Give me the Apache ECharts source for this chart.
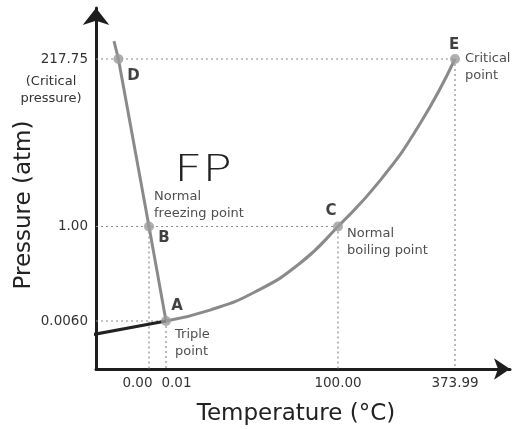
<!DOCTYPE html>
<html>
<head>
<meta charset="utf-8">
<script src="https://cdn.jsdelivr.net/npm/echarts@6/dist/echarts.min.js"></script>
<style>
html,body{margin:0;padding:0;background:#fff;}
#chart{width:514px;height:429px;}
</style>
</head>
<body>
<div id="chart"></div>
<script>
// ---- data ----
const tempTicks = [0.00, 0.01, 100.00, 373.99];
const tempTickLabels = ['0.00', '0.01', '100.00', '373.99'];
const pressTicks = [0.0060, 1.00, 217.75];
const pressTickLabels = ['0.0060', '1.00', '217.75'];

const pointNames = ['A', 'B', 'C', 'D', 'E'];
const pointTemp = [0.01, 0.00, 100.00, -0.018, 373.99];
const pointPress = [0.0060, 1.00, 1.00, 217.75, 217.75];

// solid-liquid (fusion) line
const fusionTemp = [-0.0206, -0.018, 0.00, 0.01];
const fusionPress = [241, 217.75, 1.00, 0.0060];
// liquid-gas (vaporization) curve
const vaporTemp = [0.01, 25.6, 51.7, 77.9, 100.00, 198.4, 292.0, 373.99];
const vaporPress = [0.0060, 0.121, 0.311, 0.613, 1.00, 60.3, 133.9, 217.75];
// solid-gas (sublimation) line
const sublTemp = [-0.033, 0.01];
const sublPress = [0.0043, 0.0060];

const pointText = {
  A: 'Triple\npoint',
  B: 'Normal\nfreezing point',
  C: 'Normal\nboiling point',
  E: 'Critical\npoint'
};

// ---- schematic (non-linear) axis scales ----
const xScaleVals = [0.00, 0.01, 100.00, 373.99];
const xScalePos = [53, 70, 242, 359];
const yScaleVals = [0, 0.0060, 1.00, 217.75];
const yScalePos = [0, 48, 142.5, 310];

function piece(v, vals, pos) {
  let i = 0;
  while (i < vals.length - 2 && v > vals[i + 1]) i++;
  const t = (v - vals[i]) / (vals[i + 1] - vals[i]);
  return pos[i] + t * (pos[i + 1] - pos[i]);
}
const X = t => piece(t, xScaleVals, xScalePos);
const Y = p => piece(p, yScaleVals, yScalePos);
const pairs = (ts, ps) => ts.map((t, i) => [X(t), Y(ps[i])]);

const FONT = '"DejaVu Sans", sans-serif';
const X_MAX = 414, Y_MAX = 361;

function tickIndex(val, ticks, mapFn) {
  for (let i = 0; i < ticks.length; i++) {
    if (Math.abs(mapFn(ticks[i]) - val) < 0.5) return i;
  }
  return -1;
}

const guideStyle = {color: '#8c8c8c', width: 1.2, type: [2, 3]};
const pt = n => pointNames.indexOf(n);
function guide(name, horiz, vert) {
  const i = pt(name);
  const x = X(pointTemp[i]), y = Y(pointPress[i]);
  const out = [];
  if (horiz) out.push([[0, y], [x, y]]);
  if (vert) out.push([[x, y], [x, 0]]);
  return out;
}
const guides = [].concat(
  guide('A', true, true), guide('B', false, true),
  guide('C', true, true), guide('E', true, true)
);

const letterOffsets = {A: [11, -15], B: [15, 12], C: [-7, -15], D: [15, 17], E: [-1, -14]};
const textOffsets = {A: [9, 22], B: [5, -21], C: [9, 16], E: [10, 8]};

const series = [];
guides.forEach(g => series.push({
  type: 'line', data: g, symbol: 'none', silent: true, clip: false,
  lineStyle: guideStyle, z: 1
}));
series.push({
  type: 'line', data: pairs(fusionTemp, fusionPress), symbol: 'none', clip: false,
  lineStyle: {color: '#8a8a8a', width: 3}, z: 3
});
series.push({
  type: 'line', data: pairs(vaporTemp, vaporPress), symbol: 'none', smooth: 0.5, clip: false,
  lineStyle: {color: '#8a8a8a', width: 3}, z: 3
});
series.push({
  type: 'line', data: pairs(sublTemp, sublPress), symbol: 'none', clip: false,
  lineStyle: {color: '#222', width: 3}, z: 3
});
series.push({
  type: 'scatter', symbolSize: 10, z: 5,
  itemStyle: {color: '#9b9b9b'},
  data: pointNames.map((n, i) => ({
    value: [X(pointTemp[i]), Y(pointPress[i])],
    label: {show: true, formatter: n, position: 'inside', offset: letterOffsets[n],
      color: '#111', fontWeight: 'bold', fontSize: 15, fontFamily: FONT}
  }))
});
series.push({
  type: 'scatter', symbolSize: 0, z: 6, silent: true,
  data: pointNames.filter(n => pointText[n]).map(n => {
    const i = pt(n);
    return {
      value: [X(pointTemp[i]), Y(pointPress[i])],
      label: {show: true, formatter: pointText[n], position: 'inside', align: 'left',
        verticalAlign: 'middle', offset: textOffsets[n], color: '#222',
        fontSize: 13, lineHeight: 17, fontFamily: FONT}
    };
  })
});

const chart = echarts.init(document.getElementById('chart'), null, {renderer: 'canvas'});
chart.setOption({
  animation: false,
  backgroundColor: '#fff',
  grid: {left: 96, right: 514 - 96 - X_MAX, top: 369 - Y_MAX, bottom: 60, containLabel: false},
  xAxis: {
    type: 'value', min: 0, max: X_MAX,
    axisLine: {lineStyle: {color: '#1e1e1e', width: 3}, symbol: ['none', 'arrow'], symbolSize: [16, 16]},
    axisTick: {show: false}, splitLine: {show: false},
    axisLabel: {
      customValues: tempTicks.map(X), margin: 7, hideOverlap: false,
      formatter: v => {
        const i = tickIndex(v, tempTicks, X);
        if (i < 0) return '';
        const key = i === 0 ? 'l' : (i === 1 ? 'r' : 'n');
        return '{' + key + '|' + tempTickLabels[i] + '}';
      },
      rich: {
        l: {padding: [0, 23, 0, 0], color: '#333', fontSize: 13.5, fontFamily: FONT},
        r: {padding: [0, 0, 0, 21], color: '#333', fontSize: 13.5, fontFamily: FONT},
        n: {color: '#333', fontSize: 13.5, fontFamily: FONT}
      },
      color: '#333', fontSize: 13.5, fontFamily: FONT
    }
  },
  yAxis: {
    type: 'value', min: 0, max: Y_MAX,
    axisLine: {lineStyle: {color: '#1e1e1e', width: 3}, symbol: ['none', 'arrow'], symbolSize: [20, 17]},
    axisTick: {show: false}, splitLine: {show: false},
    axisLabel: {
      customValues: pressTicks.map(Y), margin: 8, hideOverlap: false,
      formatter: v => { const i = tickIndex(v, pressTicks, Y); return i < 0 ? '' : pressTickLabels[i]; },
      color: '#333', fontSize: 13.5, fontFamily: FONT
    }
  },
  series: series
});

const p217 = chart.convertToPixel({gridIndex: 0}, [0, Y(217.75)]);
chart.setOption({
  graphic: [
    {type: 'text', x: 51, y: p217[1] + 14, style: {text: '(Critical\npressure)', fill: '#333', font: '13px ' + FONT, textAlign: 'center', lineHeight: 17}},
    {type: 'text', x: 24, y: 205, rotation: Math.PI / 2, style: {text: 'Pressure (atm)', fill: '#222', font: '23px ' + FONT, textAlign: 'center', textVerticalAlign: 'middle'}},
    {type: 'text', x: 296, y: 414, style: {text: 'Temperature (°C)', fill: '#222', font: '23px ' + FONT, textAlign: 'center', textVerticalAlign: 'middle'}},
    {type: 'text', x: 203, y: 171, scaleX: 1.3, style: {text: 'FP', fill: '#222', font: '200 38px "DejaVu Sans", sans-serif', textAlign: 'center', textVerticalAlign: 'middle'}}
  ]
});
</script>
</body>
</html>
